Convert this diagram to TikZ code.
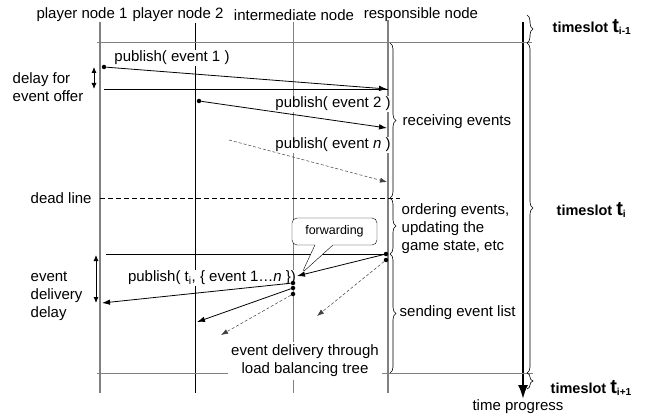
\documentclass[tikz,border=0pt]{standalone}
\usepackage{fontspec}
\setmainfont{Liberation Sans}
\usetikzlibrary{arrows,arrows.meta,positioning,decorations.pathreplacing,shapes.callouts}

\begin{document}
\begin{tikzpicture}[x=1pt, y=-1pt, font=\fontsize{15}{18}\selectfont]
\tikzset{
  life/.style={gray, line width=1.2pt},
  msg/.style={-{Latex[length=8pt,width=5.5pt]}, line width=.8pt},
  lazy/.style={-{Latex[length=7pt,width=5pt]}, gray!50!black, densely dashed, line width=.5pt},
  span/.style={{Latex[length=6pt,width=5pt]}-{Latex[length=6pt,width=5pt]}, line width=.8pt},
  slot/.style={decorate, decoration={brace, amplitude=6pt}, line width=.6pt},
  dot/.style={circle, fill=black, inner sep=0pt, minimum size=4.5pt},
  bold/.style={anchor=west, font=\fontsize{14.5}{18}\bfseries}
}
\useasboundingbox (0,0) rectangle (656,417);
\tikzstyle{every node} = [fill=white, inner sep=1.5pt]
% nodes and time axis
\node (p1) at (82,15) {player node 1};
\node (p2) at (178,15) {player node 2};
\node (im) at (294,15) {intermediate node};
\node (rs) at (421,15) {responsible node};
\coordinate (p1top) at (100,22); \coordinate (p1bot) at (100,393);
\coordinate (p2top) at (195,23); \coordinate (p2bot) at (195,393);
\coordinate (imtop) at (293,22); \coordinate (imbot) at (293,393);
\coordinate (rstop) at (388,20); \coordinate (rsbot) at (388,393);
\coordinate (tatop) at (523,22); \coordinate (tabot) at (523,399);
\draw[life, line width=1.6pt] (p1top) -- (p1bot);
\draw[line width=.8pt] (p2top) -- (p2bot);
\draw[life, line width=1pt] (imtop) -- (imbot);
\draw[life] (rstop) -- (rsbot);
\draw[line width=2.2pt, -{Latex[length=14pt,width=10pt]}] (tatop) -- (tabot);
\node (tp) at (518,407) {time progress};
% slot boundaries
\draw[gray, line width=1pt] (97,43) -- (532,43);
\draw[line width=.8pt] (104,89) -- (388,89);
\draw[dashed, dash pattern=on 5pt off 3pt, line width=.8pt] (100,198) -- (400,198);
\draw[line width=.8pt] (106,254) -- (388,254);
\draw[gray, line width=1pt] (97,373) -- (533,373);
% braces
\draw[slot] (390,43) -- (390,198);
\draw[slot] (390,198) -- (390,254);
\draw[slot] (390,254) -- (390,373);
\draw[slot] (527,15) -- (527,43);
\draw[slot] (527,43) -- (527,373);
\draw[slot] (527,373) -- (527,389);
\node[anchor=west] (recv) at (401,122) {receiving events};
\node[anchor=west, align=left] (ord) at (400,229) {ordering events,\\updating the\\game state, etc};
\node[anchor=west] (send) at (398,313) {sending event list};
\node[bold] (ts0) at (551,27) {timeslot {\fontsize{20}{20}\selectfont t}\textsubscript{i-1}};
\node[bold] (ts1) at (555,210) {timeslot {\fontsize{20}{20}\selectfont t}\textsubscript{i}};
\node[bold] (ts2) at (549,388) {timeslot {\fontsize{20}{20}\selectfont t}\textsubscript{i+1}};
% left side
\node[anchor=west, align=left] (offer) at (11,87) {delay for\\event offer};
\draw[span] (94,67) -- (94,89);
\node[anchor=west] (dl) at (29,198) {dead line};
\node[anchor=west, align=left] (edd) at (29,296) {event\\delivery\\delay};
\draw[span] (96,255) -- (96,303);
% publishing
\node (pub1) at (172,58) {publish( event 1 )};
\node (pub2) at (333,104) {publish( event 2 )};
\node (pubn) at (333,145) {publish( event \textit{n} )};
\node[dot] (e1) at (104,67) {};
\node[dot] (e2) at (199,101) {};
\coordinate (en) at (229,140);
\coordinate (r1) at (387,89);
\coordinate (r2) at (387,128);
\coordinate (rn) at (387,182);
\draw[msg] (e1) -- (r1);
\draw[msg] (e2) -- (r2);
\draw[lazy] (en) -- (rn);
% delivery
\node (pubt) at (212,278) {publish( t\textsubscript{i}, \{ event 1\ldots\textit{n} \})};
\node[align=center, inner sep=3pt] (tree) at (305,361) {event delivery through\\load balancing tree};
\coordinate (fwdtip) at (302,273);
\node[rectangle callout, draw, rounded corners=5pt, callout absolute pointer={(fwdtip)},
  callout pointer width=18pt, minimum width=85pt, minimum height=27pt,
  font=\fontsize{12.5}{14}\selectfont] (fwd) at (334.5,231.5) {forwarding};
\node[dot] (s1) at (386,254) {};
\node[dot] (s2) at (386,260) {};
\node[dot] (i1) at (293,283) {};
\node[dot] (i2) at (293,288) {};
\node[dot] (i3) at (293,294) {};
\coordinate (ir) at (297,276);
\coordinate (d1) at (102,303);
\coordinate (d2) at (197,322);
\coordinate (d3) at (221,335);
\coordinate (d4) at (317,316);
\draw[msg] (s1) -- (ir);
\draw[lazy] (s2) -- (d4);
\draw[msg] (i1) -- (d1);
\draw[msg] (i2) -- (d2);
\draw[lazy] (i3) -- (d3);
\end{tikzpicture}
\end{document}
